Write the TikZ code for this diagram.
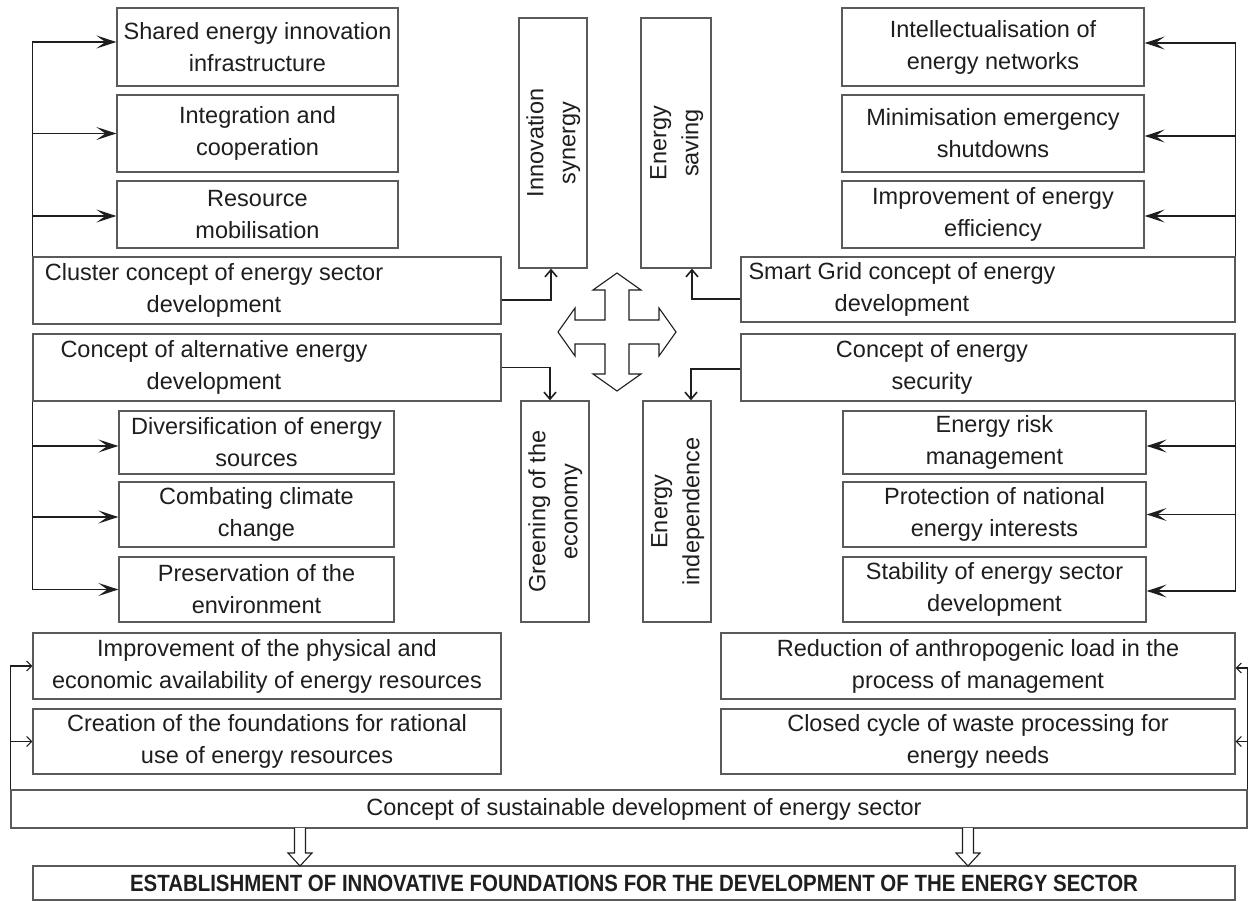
\documentclass[tikz,border=0pt]{standalone}
\usepackage{fontspec}
\setmainfont{Liberation Sans}
\newfontfamily\headfont[FakeStretch=0.87]{Liberation Sans Bold}
\usetikzlibrary{arrows.meta}
\definecolor{boxgray}{HTML}{5A5A5A}
\definecolor{ink}{HTML}{1E1E1E}
\newcommand\mybox[6]{\node[box, minimum width={(#4-#2)*1pt}, minimum height={(#5-#3)*1pt}] (#1) at ({(#2+#4)/2},{(#3+#5)/2}) {#6};}
\begin{document}
\begin{tikzpicture}[x=1pt,y=-1pt,
  every node/.style={font=\fontsize{23.5}{32}\selectfont, align=center, inner sep=0pt, text=ink},
  box/.style={draw=boxgray, line width=1.3pt, fill=white},
  conn/.style={draw=ink, line width=1.6pt},
  bigtip/.style={-{Stealth[length=20pt,width=13pt,inset=9pt]}},
  midtip/.style={-{Straight Barb[length=7pt,width=12pt]}},
  smalltip/.style={-{Straight Barb[length=5pt,width=10pt]}},
  hollow/.style={draw=ink, line width=1.1pt, fill=white, line join=miter}
]
\useasboundingbox (0,0) rectangle (1248,901);

% left top
\mybox{shared}{117}{8}{398}{86}{Shared energy innovation\\infrastructure}
\mybox{integ}{117}{95}{398}{172}{Integration and\\cooperation}
\mybox{resource}{117}{181}{398}{248}{Resource\\mobilisation}
\mybox{cluster}{33}{257}{501}{324}{}
\node at (214,290.5) {Cluster concept of energy sector\\development};
% left middle
\mybox{alt}{33}{334}{501}{401}{}
\node at (214,367.5) {Concept of alternative energy\\development};
\mybox{divers}{119}{411}{394}{474}{Diversification of energy\\sources}
\mybox{combat}{119}{482}{394}{547}{Combating climate\\change}
\mybox{preserv}{119}{557}{394}{622}{Preservation of the\\environment}

% center
\mybox{innov}{519}{18}{587}{268}{\rotatebox{90}{\begin{tabular}{@{}c@{}}Innovation\\synergy\end{tabular}}}
\mybox{saving}{641}{18}{711}{268}{\rotatebox{90}{\begin{tabular}{@{}c@{}}Energy\\saving\end{tabular}}}
\mybox{green}{521}{401}{589}{622}{\rotatebox{90}{\begin{tabular}{@{}c@{}}Greening of the\\economy\end{tabular}}}
\mybox{indep}{643}{401}{711}{622}{\rotatebox{90}{\begin{tabular}{@{}c@{}}Energy\\independence\end{tabular}}}

% right top
\mybox{intel}{842}{8}{1144}{86}{Intellectualisation of\\energy networks}
\mybox{minim}{842}{95}{1144}{172}{Minimisation emergency\\shutdowns}
\mybox{improve}{842}{181}{1144}{248}{Improvement of energy\\efficiency}
\mybox{smart}{741}{257}{1235}{322}{}
\node at (902,289.5) {Smart Grid concept of energy\\development};
% right middle
\mybox{security}{741}{334}{1235}{401}{}
\node at (932,367.5) {Concept of energy\\security};
\mybox{risk}{843}{411}{1146}{474}{Energy risk\\management}
\mybox{protect}{843}{482}{1146}{547}{Protection of national\\energy interests}
\mybox{stability}{843}{557}{1146}{622}{Stability of energy sector\\development}

% bottom
\mybox{phys}{33}{633}{501}{699}{Improvement of the physical and\\economic availability of energy resources}
\mybox{creation}{33}{709}{501}{774}{Creation of the foundations for rational\\use of energy resources}
\mybox{reduction}{721}{633}{1235}{699}{Reduction of anthropogenic load in the\\process of management}
\mybox{closed}{721}{709}{1235}{774}{Closed cycle of waste processing for\\energy needs}
\mybox{sust}{11}{790}{1247}{828}{}
\node at (644,809) {Concept of sustainable development of energy sector};
\mybox{estab}{33}{866}{1235}{900}{{\headfont ESTABLISHMENT OF INNOVATIVE FOUNDATIONS FOR THE DEVELOPMENT OF THE ENERGY SECTOR}}

% connectors left
\draw[conn,bigtip] (cluster.north west) |- ([yshift=5pt]shared.west);
\draw[conn,bigtip] (cluster.north west) |- (integ.west);
\draw[conn,bigtip] (cluster.north west) |- ([yshift=-1.5pt]resource.west);
\draw[conn,bigtip] (alt.south west) |- ([yshift=-3.5pt]divers.west);
\draw[conn,bigtip] (alt.south west) |- ([yshift=-2.5pt]combat.west);
\draw[conn,bigtip] (alt.south west) |- (preserv.west);
% connectors right
\draw[conn,bigtip] (smart.north east) |- ([yshift=4pt]intel.east);
\draw[conn,bigtip] (smart.north east) |- ([yshift=-2.5pt]minim.east);
\draw[conn,bigtip] (smart.north east) |- ([yshift=-1.5pt]improve.east);
\draw[conn,bigtip] (security.south east) |- ([yshift=-3.5pt]risk.east);
\draw[conn,bigtip] (security.south east) |- (protect.east);
\draw[conn,bigtip] (security.south east) |- ([yshift=-1.5pt]stability.east);
% connectors center
\draw[conn,midtip] ([yshift=-9.5pt]cluster.east) -| ([xshift=-2pt]innov.south);
\draw[conn,midtip] ([yshift=-9.5pt]smart.west) -| ([xshift=16pt]saving.south);
\draw[conn,midtip] (alt.east) -| ([xshift=-5pt]green.north);
\draw[conn,midtip] ([yshift=-1.5pt]security.west) -| ([xshift=14pt]indep.north);
% connectors bottom
\draw[conn,line width=1.1pt,smalltip] (sust.north west) |- (phys.west);
\draw[conn,line width=1.1pt,smalltip] (sust.north west) |- (creation.west);
\draw[conn,line width=1.1pt,smalltip] (sust.north east) |- ([yshift=-2pt]reduction.east);
\draw[conn,line width=1.1pt,smalltip] (sust.north east) |- (closed.east);

% hollow down arrows
\foreach \ax in {300,968}{
  \draw[hollow] (\ax-5.5,828) -- (\ax-5.5,853) -- (\ax-12,853) -- (\ax,866) -- (\ax+12,853) -- (\ax+5.5,853) -- (\ax+5.5,828);
}

% four-way arrow
\begin{scope}[shift={(617,332)}]
\draw[hollow] (0,-59) -- (24,-42) -- (12,-42) -- (12,-12) -- (42,-12) -- (42,-24) -- (59,0) -- (42,24) -- (42,12) -- (12,12) -- (12,42) -- (24,42) -- (0,59) -- (-24,42) -- (-12,42) -- (-12,12) -- (-42,12) -- (-42,24) -- (-59,0) -- (-42,-24) -- (-42,-12) -- (-12,-12) -- (-12,-42) -- (-24,-42) -- cycle;
\end{scope}
\end{tikzpicture}
\end{document}
